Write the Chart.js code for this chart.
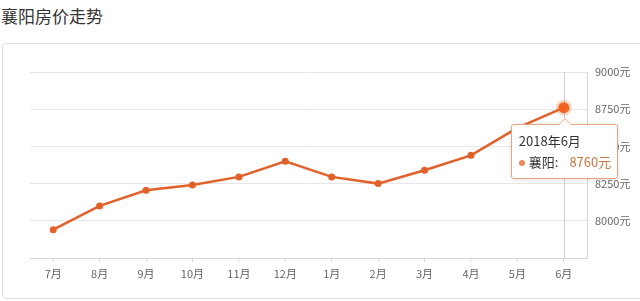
<!DOCTYPE html>
<html>
<head>
<meta charset="utf-8">
<script src="https://cdn.jsdelivr.net/npm/chart.js@4/dist/chart.umd.min.js"></script>
<style>
  html, body { margin: 0; padding: 0; background: #fff; overflow: hidden; }
  body { width: 640px; height: 301px; position: relative; font-family: "Noto Sans CJK SC", sans-serif; }
  #title { position: absolute; left: 1px; top: 3px; font-size: 17px; color: #333; letter-spacing: 0; }
  #card { position: absolute; left: 2px; top: 43px; width: 680px; height: 254px; border: 1px solid #e0e0e0; border-radius: 4px; }
  #wrap { position: absolute; left: 0; top: 0; width: 640px; height: 301px; }
  #tip {
    position: absolute; background: #fff; border: 1px solid #e9a57f; border-radius: 3px;
    box-shadow: 0 1px 4px rgba(0,0,0,0.12); padding: 5px 6px 6px 7px; font-size: 13px; color: #333;
    white-space: nowrap; pointer-events: none; opacity: 0; line-height: 21px;
  }
  #tip:before, #tip:after { content: ""; position: absolute; left: 50%; border: solid transparent; }
  #tip:before { top: -7px; margin-left: -7px; border-width: 0 7px 7px 7px; border-bottom-color: #e9a57f; }
  #tip:after { top: -6px; margin-left: -6px; border-width: 0 6px 6px 6px; border-bottom-color: #fff; }
  #tip .dot { display: inline-block; width: 6px; height: 6px; border-radius: 3px; background: #e98a5e; margin-right: 4px; vertical-align: 1px; }
  #tip .val { color: #c9783f; margin-left: 11px; }
</style>
</head>
<body>
<div id="title">襄阳房价走势</div>
<div id="card"></div>
<div id="wrap"><canvas id="chart" width="640" height="301"></canvas></div>
<div id="tip"></div>
<script>
// 月份与房价（元/平方米）
const months = ['7月', '8月', '9月', '10月', '11月', '12月', '1月', '2月', '3月', '4月', '5月', '6月'];
const tipTitles = ['2017年7月', '2017年8月', '2017年9月', '2017年10月', '2017年11月', '2017年12月',
                   '2018年1月', '2018年2月', '2018年3月', '2018年4月', '2018年5月', '2018年6月'];
const prices = [7940, 8100, 8205, 8240, 8295, 8400, 8295, 8250, 8340, 8440, 8625, 8760];
const cityName = '襄阳';
const yTicks = [7750, 8000, 8250, 8500, 8750, 9000];
const activeIndex = 11;

const lineColor = '#e2612b';

// 竖直辅助线
const crosshair = {
  id: 'crosshair',
  beforeDatasetsDraw(chart) {
    const act = chart.getActiveElements();
    if (!act.length) return;
    const x = act[0].element.x;
    const ctx = chart.ctx;
    ctx.save();
    ctx.strokeStyle = '#cfcfcf';
    ctx.lineWidth = 1;
    ctx.beginPath();
    ctx.moveTo(Math.round(x) + 0.5, chart.chartArea.top);
    ctx.lineTo(Math.round(x) + 0.5, chart.chartArea.bottom);
    ctx.stroke();
    ctx.restore();
  }
};

function externalTip(context) {
  const tip = document.getElementById('tip');
  const t = context.tooltip;
  if (t.opacity === 0) { tip.style.opacity = 0; return; }
  const i = t.dataPoints[0].dataIndex;
  tip.innerHTML = '<div>' + tipTitles[i] + '</div>' +
    '<div><span class="dot"></span>' + cityName + ':<span class="val">' + prices[i] + '元</span></div>';
  tip.style.opacity = 1;
  const w = tip.offsetWidth;
  tip.style.left = (t.caretX - w / 2 + 1) + 'px';
  tip.style.top = (t.caretY + 16) + 'px';
}

Chart.defaults.font.family = '"Noto Sans CJK SC", "Noto Sans", sans-serif';
Chart.defaults.font.size = 11;
Chart.defaults.color = '#666';

const chart = new Chart(document.getElementById('chart').getContext('2d'), {
  type: 'line',
  data: {
    labels: months,
    datasets: [{
      label: cityName,
      data: prices,
      borderColor: lineColor,
      backgroundColor: lineColor,
      borderWidth: 2.5,
      pointRadius: 3.5,
      pointBorderWidth: 0,
      pointHoverRadius: 5.5,
      pointHoverBackgroundColor: '#f2601f',
      pointHoverBorderColor: 'rgba(242, 110, 50, 0.28)',
      pointHoverBorderWidth: 5,
      tension: 0,
      fill: false
    }]
  },
  options: {
    responsive: false,
    animation: false,
    events: [],
    layout: { padding: { left: 30, top: 72, right: 0, bottom: 0 } },
    scales: {
      x: {
        offset: true,
        grid: { offset: false, drawOnChartArea: false, drawTicks: true, tickLength: 4, color: '#d6d6d6' },
        border: { color: '#d6d6d6' },
        ticks: { padding: 5, maxRotation: 0, autoSkip: false },
        afterFit(s) { s.height = 43; }
      },
      y: {
        position: 'right',
        min: yTicks[0],
        max: yTicks[yTicks.length - 1],
        afterBuildTicks(s) { s.ticks = yTicks.map(v => ({ value: v })); },
        grid: { color: '#e6e6e6', drawTicks: false },
        border: { color: '#d6d6d6' },
        ticks: {
          padding: 8,
          callback: v => v === yTicks[0] ? '' : v + '元'
        },
        afterFit(s) { s.width = 53; }
      }
    },
    plugins: {
      legend: { display: false },
      tooltip: { enabled: false, external: externalTip }
    }
  },
  plugins: [crosshair]
});

const pt = chart.getDatasetMeta(0).data[activeIndex];
chart.setActiveElements([{ datasetIndex: 0, index: activeIndex }]);
chart.tooltip.setActiveElements([{ datasetIndex: 0, index: activeIndex }], { x: pt.x, y: pt.y });
chart.update();
</script>
</body>
</html>
